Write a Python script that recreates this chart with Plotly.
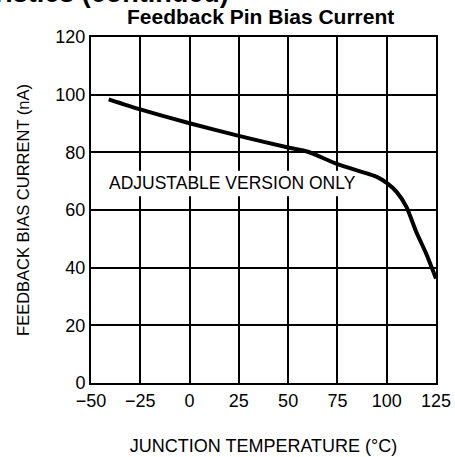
import plotly.graph_objects as go

temp_c = [-41, -25, 0, 25, 50, 60, 75, 95, 100, 105, 110, 115, 120, 125]
bias_na = [98.4, 94.9, 90.1, 85.7, 81.7, 80.2, 75.9, 71.5, 69.4, 66.3, 61.1, 52.4, 44.9, 36.2]

x_ticks = [-50, -25, 0, 25, 50, 75, 100, 125]
y_ticks = [0, 20, 40, 60, 80, 100, 120]

FONT = "Liberation Sans, Arial, sans-serif"

fig = go.Figure()
fig.add_trace(go.Scatter(
    x=temp_c, y=bias_na, mode="lines",
    line=dict(color="black", width=4, shape="spline", smoothing=0.6),
    showlegend=False, hoverinfo="skip",
))

axis_common = dict(
    showgrid=True, gridcolor="black", gridwidth=1.5,
    showline=True, linecolor="black", linewidth=2, mirror=True,
    zeroline=False, ticks="", automargin=False,
    tickfont=dict(family=FONT, size=18, color="black"),
)

fig.update_xaxes(
    range=[-50, 125], tickvals=x_ticks,
    ticktext=[str(v).replace("-", "\u2212") for v in x_ticks],
    title=dict(text="JUNCTION TEMPERATURE (°C)", font=dict(family=FONT, size=18, color="black"), standoff=30),
    **axis_common,
)
fig.update_yaxes(
    range=[0, 120], tickvals=y_ticks,
    title=dict(text="FEEDBACK BIAS CURRENT (nA)", font=dict(family=FONT, size=16.5, color="black"), standoff=22),
    **axis_common,
)

# white patch behind the note (between grid and trace)
fig.add_shape(type="rect", xref="x", yref="y", x0=-43.5, x1=82.5, y0=64.8, y1=73.6,
              fillcolor="white", line=dict(width=0), layer="between")

L, R, T, B = 91, 19, 37, 74
PW = 455 - L - R

fig.add_annotation(
    x=-42, y=69.3, xref="x", yref="y", xanchor="left", yanchor="middle",
    text="ADJUSTABLE VERSION ONLY", showarrow=False,
    font=dict(family=FONT, size=17.5, color="black"),
)
fig.add_annotation(
    x=(260 - L) / PW, y=1, xref="paper", yref="paper", showarrow=False,
    text="<b>Feedback Pin Bias Current</b>",
    font=dict(family=FONT, size=21, color="black"),
    xanchor="center", yanchor="middle", yshift=21,
)
fig.add_annotation(
    x=(231 - L) / PW, y=1, xref="paper", yref="paper", showarrow=False,
    text="<b>Typical Performance Characteristics (continued)</b>",
    font=dict(family=FONT, size=27, color="black"),
    xanchor="right", yanchor="bottom", yshift=27,
)

fig.update_layout(
    width=455, height=457,
    margin=dict(l=L, r=R, t=T, b=B),
    paper_bgcolor="white", plot_bgcolor="white",
)

fig.write_html("out.html", config={"displayModeBar": False},
               post_script="document.body.style.margin='0px';")
